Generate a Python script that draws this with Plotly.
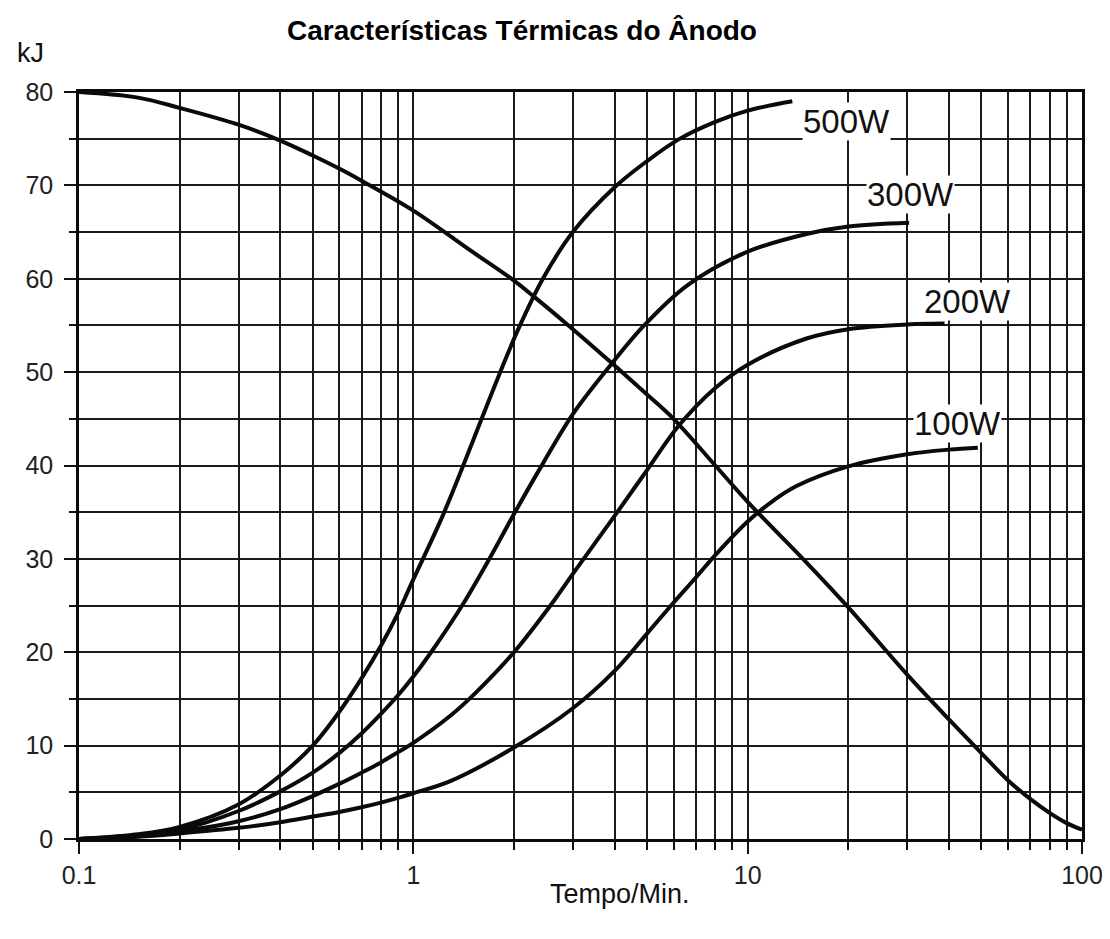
import math
import plotly.graph_objects as go

# ---- data ----
cool_x = [0.1, 0.15, 0.2, 0.3, 0.4, 0.5, 0.6, 0.7, 1.0, 1.5, 2.0, 2.31, 3.0, 4.0, 5.0, 6.0, 8.0,
          10.0, 15.0, 20.0, 30.0, 40.0, 50.0, 60.0, 70.0, 80.0, 90.0, 100.0]
cool_y = [80.0, 79.4, 78.3, 76.5, 74.8, 73.2, 71.8, 70.5, 67.3, 62.9, 59.8, 58.0, 54.6, 50.7, 47.6, 45.0, 40.0,
          36.1, 29.6, 24.8, 17.6, 12.8, 9.2, 6.3, 4.3, 2.8, 1.7, 1.0]

w500_x = [0.1, 0.15, 0.2, 0.3, 0.4, 0.5, 0.6, 0.7, 0.8, 0.9, 1.0, 1.22, 1.41, 1.58, 1.81, 2.06,
          2.44, 3.0, 4.0, 5.0, 6.2, 8.0, 10.0, 13.6]
w500_y = [0.0, 0.5, 1.3, 3.7, 6.8, 10.0, 13.6, 17.2, 20.7, 24.2, 27.8, 34.5, 40.0, 44.5, 49.8, 54.6,
          60.0, 65.0, 69.8, 72.6, 74.9, 76.8, 78.0, 79.0]

w300_x = [0.1, 0.15, 0.2, 0.3, 0.4, 0.5, 0.6, 0.7, 0.8, 0.9, 1.0, 1.13, 1.41, 1.7, 2.0, 2.44,
          3.0, 3.8, 4.9, 6.6, 10.0, 15.0, 20.0, 30.4]
w300_y = [0.0, 0.4, 1.0, 3.0, 5.1, 7.1, 9.2, 11.3, 13.4, 15.4, 17.4, 20.0, 25.2, 30.2, 34.8, 40.2,
          45.5, 50.3, 55.0, 59.3, 62.9, 64.8, 65.6, 66.0]

w200_x = [0.1, 0.15, 0.2, 0.3, 0.4, 0.5, 0.6, 0.7, 0.8, 0.9, 1.0, 1.29, 1.53, 2.0, 2.57, 3.0,
          4.0, 5.0, 6.2, 8.0, 10.0, 15.0, 20.0, 30.0, 38.8]
w200_y = [0.0, 0.3, 0.8, 1.9, 3.2, 4.6, 5.9, 7.1, 8.2, 9.3, 10.3, 13.2, 15.6, 20.0, 25.0, 28.4,
          34.6, 39.5, 44.2, 48.3, 50.8, 53.6, 54.6, 55.1, 55.2]

w100_x = [0.1, 0.15, 0.2, 0.3, 0.4, 0.5, 0.6, 0.7, 0.8, 0.9, 1.0, 1.29, 2.0, 3.0, 4.0, 5.0,
          6.0, 7.0, 8.0, 10.0, 12.0, 14.0, 20.0, 30.0, 40.0, 48.8]
w100_y = [0.0, 0.25, 0.6, 1.2, 1.8, 2.4, 2.9, 3.4, 3.9, 4.4, 4.9, 6.2, 9.8, 14.0, 18.0, 22.0,
          25.3, 28.0, 30.4, 34.0, 36.3, 37.8, 39.9, 41.2, 41.7, 41.9]

series_names = ["500W", "300W", "200W", "100W"]
x_tick_vals = [0.1, 1, 10, 100]
x_tick_text = ["0.1", "1", "10", "100"]
y_tick_vals = [0, 10, 20, 30, 40, 50, 60, 70, 80]

title_text = "Características Térmicas do Ânodo"
x_title = "Tempo/Min."
y_unit = "kJ"

# ---- layout geometry (figure pixels; the page adds an 8px body margin) ----
OFF = 8
W, H = 1102, 931
ML, MR, MT, MB = 79 - OFF, 28, 92 - OFF, 100
PW, PH = W - ML - MR, H - MT - MB


def px_to_paper(sx, sy):
    """screen pixel -> paper coordinates"""
    return (sx - OFF - ML) / PW, (H - MB - (sy - OFF)) / PH


FONT = "Arial, Liberation Sans, Helvetica, sans-serif"
fig = go.Figure()

line_style = dict(color="#0a0a0a", width=4, shape="spline", smoothing=1.0)
fig.add_trace(go.Scatter(x=cool_x, y=cool_y, mode="lines", line=line_style, name="cooling"))
for name, xs, ys in zip(series_names,
                        [w500_x, w300_x, w200_x, w100_x],
                        [w500_y, w300_y, w200_y, w100_y]):
    fig.add_trace(go.Scatter(x=xs, y=ys, mode="lines", line=line_style, name=name))

# curve labels (x given in log10 units for a log axis)
label_pos = {"500W": (19.8, 76.8), "300W": (30.6, 69.0), "200W": (45.6, 57.6), "100W": (42.3, 44.5)}
for name in series_names:
    lx, ly = label_pos[name]
    fig.add_annotation(x=math.log10(lx), y=ly, xref="x", yref="y", text=name, showarrow=False,
                       xanchor="center", yanchor="middle",
                       font=dict(family=FONT, size=33, color="#111"),
                       bgcolor="white", borderpad=0)

# minor log ticks
minor_vals = [m * 10 ** e for e in (-1, 0, 1) for m in range(2, 10)]
GRID = "#1a1a1a"

fig.update_xaxes(
    type="log", range=[-1, 2], automargin=False,
    tickvals=x_tick_vals, ticktext=x_tick_text,
    ticks="outside", ticklen=12, tickwidth=2, tickcolor="#111",
    tickfont=dict(family=FONT, size=25, color="#222"),
    ticklabelstandoff=0,
    showgrid=True, gridcolor=GRID, gridwidth=1.6,
    minor=dict(tickvals=minor_vals, ticks="outside", ticklen=8, tickwidth=2, tickcolor="#111",
               showgrid=True, gridcolor=GRID, gridwidth=1.6),
    showline=True, linecolor="#0a0a0a", linewidth=2.5, mirror=True,
    zeroline=False,
)
fig.update_yaxes(
    range=[0, 80], automargin=False,
    tickvals=y_tick_vals,
    ticks="outside", ticklen=12, tickwidth=2, tickcolor="#111",
    tickfont=dict(family=FONT, size=25, color="#222"),
    ticklabelstandoff=6,
    showgrid=True, gridcolor=GRID, gridwidth=1.6,
    minor=dict(dtick=5, ticks="outside", ticklen=7, tickwidth=2, tickcolor="#111",
               showgrid=True, gridcolor=GRID, gridwidth=1.6),
    showline=True, linecolor="#0a0a0a", linewidth=2.5, mirror=True,
    zeroline=False,
)

kx, ky = px_to_paper(30, 53)
fig.add_annotation(x=kx, y=ky, xref="paper", yref="paper", text=y_unit, showarrow=False,
                   xanchor="center", yanchor="middle",
                   font=dict(family=FONT, size=27, color="#111"))
tx, ty = px_to_paper(620, 894)
fig.add_annotation(x=tx, y=ty, xref="paper", yref="paper", text=x_title, showarrow=False,
                   xanchor="center", yanchor="middle",
                   font=dict(family=FONT, size=27, color="#111"))

fig.update_layout(
    width=W, height=H,
    margin=dict(l=ML, r=MR, t=MT, b=MB),
    paper_bgcolor="white", plot_bgcolor="white",
    showlegend=False,
    title=dict(text="<b>" + title_text + "</b>", x=(522 - OFF) / W, xanchor="center",
               y=1 - (30 - OFF) / H, yanchor="middle", yref="container",
               font=dict(family=FONT, size=28, color="#000")),
)

fig.write_html("out.html")
